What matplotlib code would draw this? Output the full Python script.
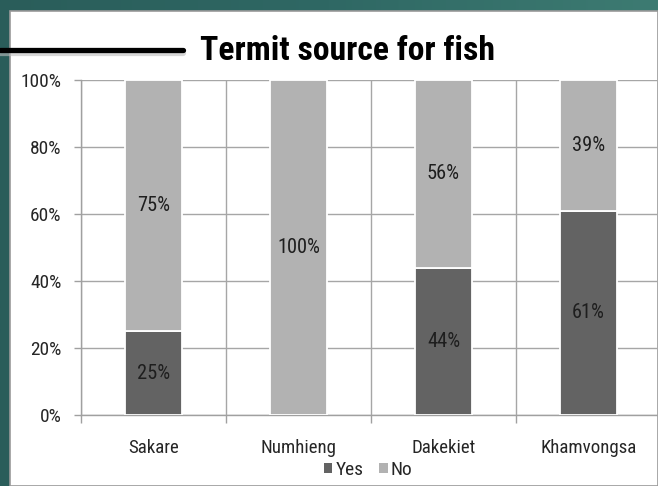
import numpy as np
import matplotlib
matplotlib.use("Agg")
import matplotlib.pyplot as plt
from matplotlib import font_manager as fm
from matplotlib.patches import Rectangle, Patch
from matplotlib.lines import Line2D
from matplotlib.colors import LinearSegmentedColormap

categories = ["Sakare", "Numhieng", "Dakekiet", "Khamvongsa"]
yes_vals = [25, 0, 44, 61]
no_vals = [75, 100, 56, 39]
yticks = [0, 20, 40, 60, 80, 100]
ytick_labels = ["0%", "20%", "40%", "60%", "80%", "100%"]
title = "Termit source for fish"

# pick a narrow, Calibri-like font if available
names = {f.name for f in fm.fontManager.ttflist}
cond = {(f.name, f.stretch) for f in fm.fontManager.ttflist}
family = 'Lato'
stretch = 'normal'
for cand in ['Liberation Sans Narrow', 'Roboto Condensed', 'Open Sans Condensed', 'Noto Sans Condensed']:
    if cand in names:
        family = cand
        break
else:
    for nm in ['Noto Sans', 'DejaVu Sans', 'Roboto', 'Open Sans']:
        if any(n == nm and s in ('condensed', 'semi-condensed', 'extra-condensed', 75, 87)
               for n, s in cond):
            family, stretch = nm, 'condensed'
            break
plt.rcParams['font.family'] = [family, 'DejaVu Sans']
plt.rcParams['font.stretch'] = stretch

W, H = 658, 486
fig = plt.figure(figsize=(W / 100, H / 100), dpi=100)
renderer = fig.canvas.get_renderer()


def fit_size(s, target_px, weight='normal'):
    t = fig.text(0, 0, s, fontsize=20, fontweight=weight)
    w = t.get_window_extent(renderer).width
    t.remove()
    return 20 * target_px / w


fs_title = fit_size(title, 293, 'bold')
fs_ytick = fit_size("100%", 41)
fs_xtick = fit_size("Khamvongsa", 96)
fs_lab = fit_size("75%", 33)
fs_leg = fit_size("Yes", 28)

# background gradient (teal)
bg = fig.add_axes([0, 0, 1, 1])
grad = np.linspace(0, 1, 256)[None, :]
cm = LinearSegmentedColormap.from_list("teal", ["#2a5d5a", "#2f6864", "#3d7b72"])
bg.imshow(grad, aspect='auto', cmap=cm, extent=[0, 1, 0, 1])
bg.set_xlim(0, 1); bg.set_ylim(0, 1)
bg.axis('off')
bg.add_patch(Rectangle((10 / W, 0), 1 - 10 / W, 1 - 11 / H, facecolor='white',
                       edgecolor='#9a9a9a', linewidth=1.2, zorder=2))

# decorative line with shadow
fig.add_artist(Line2D([0, 183 / W], [1 - 53 / H, 1 - 53 / H], color='#bdbdbd', lw=4.5,
                      alpha=0.6, solid_capstyle='round', zorder=3))
fig.add_artist(Line2D([0, 183 / W], [1 - 50 / H, 1 - 50 / H], color='black', lw=3.8,
                      solid_capstyle='round', zorder=4))

fig.text(200 / W, 1 - 60 / H, title, ha='left', va='baseline', fontsize=fs_title,
         fontweight='bold', color='black', zorder=5)

ax = fig.add_axes([81 / W, 1 - 415 / H, 580 / W, 335 / H])
ax.set_zorder(5)
ax.patch.set_alpha(0)
x = np.arange(len(categories))
dark = '#636363'
light = '#b2b2b2'
ax.bar(x, yes_vals, width=0.39, color=dark, edgecolor='white', linewidth=1.3, zorder=3, label='Yes')
ax.bar(x, no_vals, width=0.39, bottom=yes_vals, color=light, edgecolor='white', linewidth=1.3,
       zorder=3, label='No')

for i in range(len(categories)):
    if yes_vals[i] > 0:
        ax.text(x[i], yes_vals[i] / 2, f"{yes_vals[i]}%", ha='center', va='center',
                fontsize=fs_lab, color='#1e1e1e', zorder=4)
    if no_vals[i] > 0:
        ax.text(x[i], yes_vals[i] + no_vals[i] / 2, f"{no_vals[i]}%", ha='center', va='center',
                fontsize=fs_lab, color='#1e1e1e', zorder=4)

ax.set_xlim(-0.5, len(categories) - 0.5)
ax.set_ylim(0, 100)
ax.set_yticks(yticks)
ax.set_yticklabels(ytick_labels, fontsize=fs_ytick, color='#262626')
ax.set_xticks(x)
ax.set_xticklabels(categories, fontsize=fs_xtick, color='#262626')
ax.set_xticks(np.arange(-0.5, len(categories), 1.0), minor=True)
ax.tick_params(axis='x', which='major', length=0, pad=17)
ax.tick_params(axis='x', which='minor', length=6, color='#a0a0a0', width=1, direction='out')
ax.tick_params(axis='y', length=5, color='#a0a0a0', width=1, pad=9)
ax.grid(axis='y', color='#a6a6a6', linewidth=1, zorder=0)
ax.grid(axis='x', which='minor', color='#a6a6a6', linewidth=1, zorder=0)
for s in ['top', 'right']:
    ax.spines[s].set_visible(False)
for s in ['left', 'bottom']:
    ax.spines[s].set_color('#a0a0a0')
    ax.spines[s].set_linewidth(1)

handles = [Patch(facecolor=dark, edgecolor='none'), Patch(facecolor=light, edgecolor='none')]
fig.legend(handles, ['Yes', 'No'], loc='center', bbox_to_anchor=(368 / W, 1 - 470 / H),
           ncol=2, frameon=False, fontsize=fs_leg, handlelength=0.45, handleheight=0.45,
           handletextpad=0.15, columnspacing=0.8, labelcolor='#262626',
           borderpad=0, borderaxespad=0)

fig.savefig("out.png", dpi=100, facecolor=fig.get_facecolor())
